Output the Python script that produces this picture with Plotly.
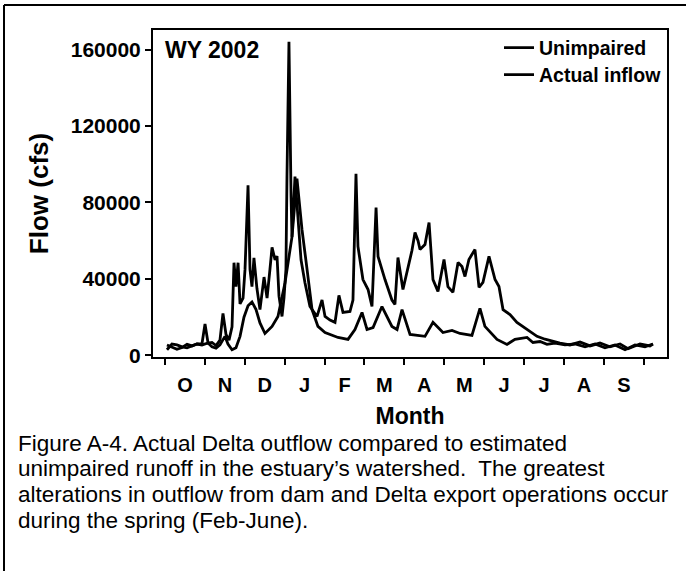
import plotly.graph_objects as go

# ---- data (water year 2002, x = day of water year starting Oct 1) ----
month_labels = ["O", "N", "D", "J", "F", "M", "A", "M", "J", "J", "A", "S"]
y_ticks = [0, 40000, 80000, 120000, 160000]
y_tick_text = ["0", "40000", "80000", "120000", "160000"]

unimpaired_day = [1.5, 5.3, 9.1, 13.0, 16.8, 20.6, 24.4, 28.2, 30.5, 32.8, 35.8, 38.9, 41.9, 44.2,
                  46.5, 48.8, 51.1, 52.6, 54.1, 55.7, 57.2, 59.5, 61.0, 63.3, 64.8, 66.3, 67.8, 70.1,
                  72.4, 75.5, 77.8, 80.0, 81.6, 83.9, 85.4, 86.9, 89.2, 90.7, 92.2, 93.0, 94.5, 96.1,
                  96.8, 99.1, 101.4, 103.7, 106.7, 110.5, 115.9, 119.7, 122.0, 125.8, 129.6, 132.6,
                  135.7, 141.0, 143.3, 145.6, 147.1, 150.9, 154.8, 157.8, 160.9, 162.4, 167.7, 173.0,
                  175.3, 177.6, 181.4, 185.2, 188.3, 190.6, 192.9, 194.4, 198.2, 201.3, 204.3, 208.1,
                  212.7, 215.7, 219.5, 223.4, 226.4, 228.7, 231.7, 236.3, 239.4, 242.4, 247.0, 251.6,
                  254.6, 257.7, 263.0, 268.3, 276.0, 283.6, 289.7, 295.8, 301.1, 308.7, 316.4, 324.0,
                  331.6, 339.2, 346.9, 353.0, 362.1, 369.7, 372.0]
unimpaired_cfs = [5500, 4500, 3200, 4200, 5800, 5000, 6000, 6200, 16500, 6500, 6800, 5200, 8000, 22000,
                  11000, 8000, 15000, 48500, 36000, 48500, 27000, 30000, 45000, 89000, 45000, 36000, 51000, 35000,
                  24000, 41000, 30000, 45000, 56500, 50000, 52000, 31000, 20400, 30000, 45000, 94000, 164000, 83000,
                  62000, 93600, 72700, 50000, 38000, 25600, 20400, 29000, 20400, 18500, 17300, 31400,
                  22500, 23000, 29000, 95000, 57000, 39700, 34500, 25600, 77400, 51800, 39700, 29000,
                  26700, 51200, 34500, 46500, 55000, 64300, 60000, 55400, 58000, 69500, 39700, 33500,
                  50200, 36000, 33000, 48600, 46500, 41300, 50200, 55400, 35600, 38200, 51800, 39700,
                  36100, 24000, 21400, 17300, 13600, 10000, 8500, 7300, 6500, 5500, 7000, 5000,
                  6500, 4500, 6000, 3500, 6000, 5000, 6000]

actual_day = [1.5, 5.3, 9.1, 13.0, 16.8, 20.6, 24.4, 28.2, 32.8, 35.8, 38.9, 41.9, 45.7, 48.0,
              51.1, 54.1, 57.2, 60.2, 63.3, 66.3, 69.4, 72.4, 76.2, 81.6, 86.1, 91.5, 95.3, 96.8,
              100.6, 104.4, 108.3, 112.1, 116.6, 122.0, 131.9, 139.5, 144.8, 150.2, 154.0, 158.6,
              165.4, 173.0, 176.9, 180.7, 186.8, 198.2, 204.3, 211.9, 218.8, 224.9, 234.0, 240.1,
              243.9, 253.1, 260.7, 266.8, 276.0, 280.5, 285.9, 291.2, 297.3, 304.9, 312.6, 320.2,
              327.8, 335.4, 343.0, 350.7, 358.3, 365.9, 372.0]
actual_cfs = [3000, 6000, 5500, 4500, 4000, 5200, 6000, 5500, 6500, 4500, 3800, 5500, 10000, 6000,
              3000, 4000, 10000, 20000, 26000, 28000, 24000, 17000, 11500, 15200, 20400, 38000, 54000, 62000,
              92500, 66000, 45000, 24000, 15200, 12000, 9400, 8400, 13600, 22500, 13600, 14600,
              25600, 15200, 13600, 24000, 11000, 10000, 17300, 12000, 13100, 11500, 10500, 24600,
              15200, 8400, 5800, 8400, 9400, 6800, 7300, 5800, 6500, 5500, 6000, 4500,
              6000, 4000, 5500, 3000, 5500, 4500, 6000]

caption_lines = [
    "Figure A-4. Actual Delta outflow compared to estimated",
    "unimpaired runoff in the estuary\u2019s watershed.  The greatest",
    "alterations in outflow from dam and Delta export operations occur",
    "during the spring (Feb-June).",
]

FONT = "Arial, 'Liberation Sans', sans-serif"
W, H = 686, 571
L, R, T, B = 153, 19, 30, 214
pw, ph = W - L - R, H - T - B

def px2paper_x(px):
    return (px - L) / pw

def py2paper_y(py):
    return (H - B - py) / ph

month_len = 365 / 12
bounds = [i * month_len for i in range(13)]
mids = [(i + 0.5) * month_len for i in range(12)]

fig = go.Figure()
fig.add_trace(go.Scatter(x=unimpaired_day, y=unimpaired_cfs, mode="lines", name="Unimpaired",
                         line=dict(color="black", width=2.8), legend="legend"))
fig.add_trace(go.Scatter(x=actual_day, y=actual_cfs, mode="lines", name="Actual inflow",
                         line=dict(color="black", width=2.8), legend="legend2"))

fig.update_layout(
    width=W, height=H,
    margin=dict(l=L, r=R, t=T, b=B, autoexpand=False),
    paper_bgcolor="white", plot_bgcolor="white",
    font=dict(family=FONT, color="black"),
    legend=dict(x=px2paper_x(499), y=py2paper_y(48), xanchor="left", yanchor="middle",
                font=dict(size=19.5, family=FONT, weight="bold"), bgcolor="rgba(0,0,0,0)"),
    legend2=dict(x=px2paper_x(499), y=py2paper_y(75), xanchor="left", yanchor="middle",
                 font=dict(size=19.5, family=FONT, weight="bold"), bgcolor="rgba(0,0,0,0)"),
    xaxis=dict(range=[-9.15, 382.7], tickmode="array", tickvals=mids, ticktext=month_labels,
               ticks="", tickfont=dict(size=20, family=FONT, weight="bold"),
               ticklabelstandoff=9, automargin=False,
               minor=dict(tickmode="array", tickvals=bounds, ticks="outside", ticklen=6,
                          tickwidth=2, tickcolor="black", showgrid=False),
               showline=True, linecolor="black", linewidth=2, mirror=True,
               showgrid=False, zeroline=False,
               title=dict(text="<b>Month</b>", font=dict(size=23, family=FONT), standoff=13)),
    yaxis=dict(range=[-800, 170200], tickmode="array", tickvals=y_ticks, ticktext=y_tick_text,
               ticks="outside", ticklen=6, tickwidth=2, tickcolor="black",
               tickfont=dict(size=21, family=FONT, weight="bold"), ticklabelstandoff=0,
               showline=True, linecolor="black", linewidth=2, mirror=True,
               showgrid=False, zeroline=False, automargin=False,
               title=dict(text="<b>Flow (cfs)</b>", font=dict(size=26, family=FONT), standoff=15)),
    showlegend=True,
)

annotations = [dict(text="<b>WY 2002</b>", x=px2paper_x(163), y=py2paper_y(50), xref="paper", yref="paper",
                    xanchor="left", yanchor="middle", showarrow=False, font=dict(size=23, family=FONT))]
cap_y = [443, 468, 494, 520]
for txt, yy in zip(caption_lines, cap_y):
    annotations.append(dict(text=txt, x=px2paper_x(16), y=py2paper_y(yy), xref="paper", yref="paper",
                            xanchor="left", yanchor="middle", showarrow=False,
                            font=dict(size=22.5, family=FONT)))
fig.update_layout(annotations=annotations)

# outer figure frame (left and top edges)
fig.add_shape(type="line", xref="paper", yref="paper", x0=px2paper_x(4), x1=px2paper_x(4),
              y0=py2paper_y(5), y1=py2paper_y(575), line=dict(color="black", width=2))
fig.add_shape(type="line", xref="paper", yref="paper", x0=px2paper_x(4), x1=px2paper_x(690),
              y0=py2paper_y(5), y1=py2paper_y(5), line=dict(color="black", width=2))

fig.write_html("out.html", config={"displayModeBar": False},
               post_script="document.body.style.margin='0';document.body.style.overflow='hidden';")
